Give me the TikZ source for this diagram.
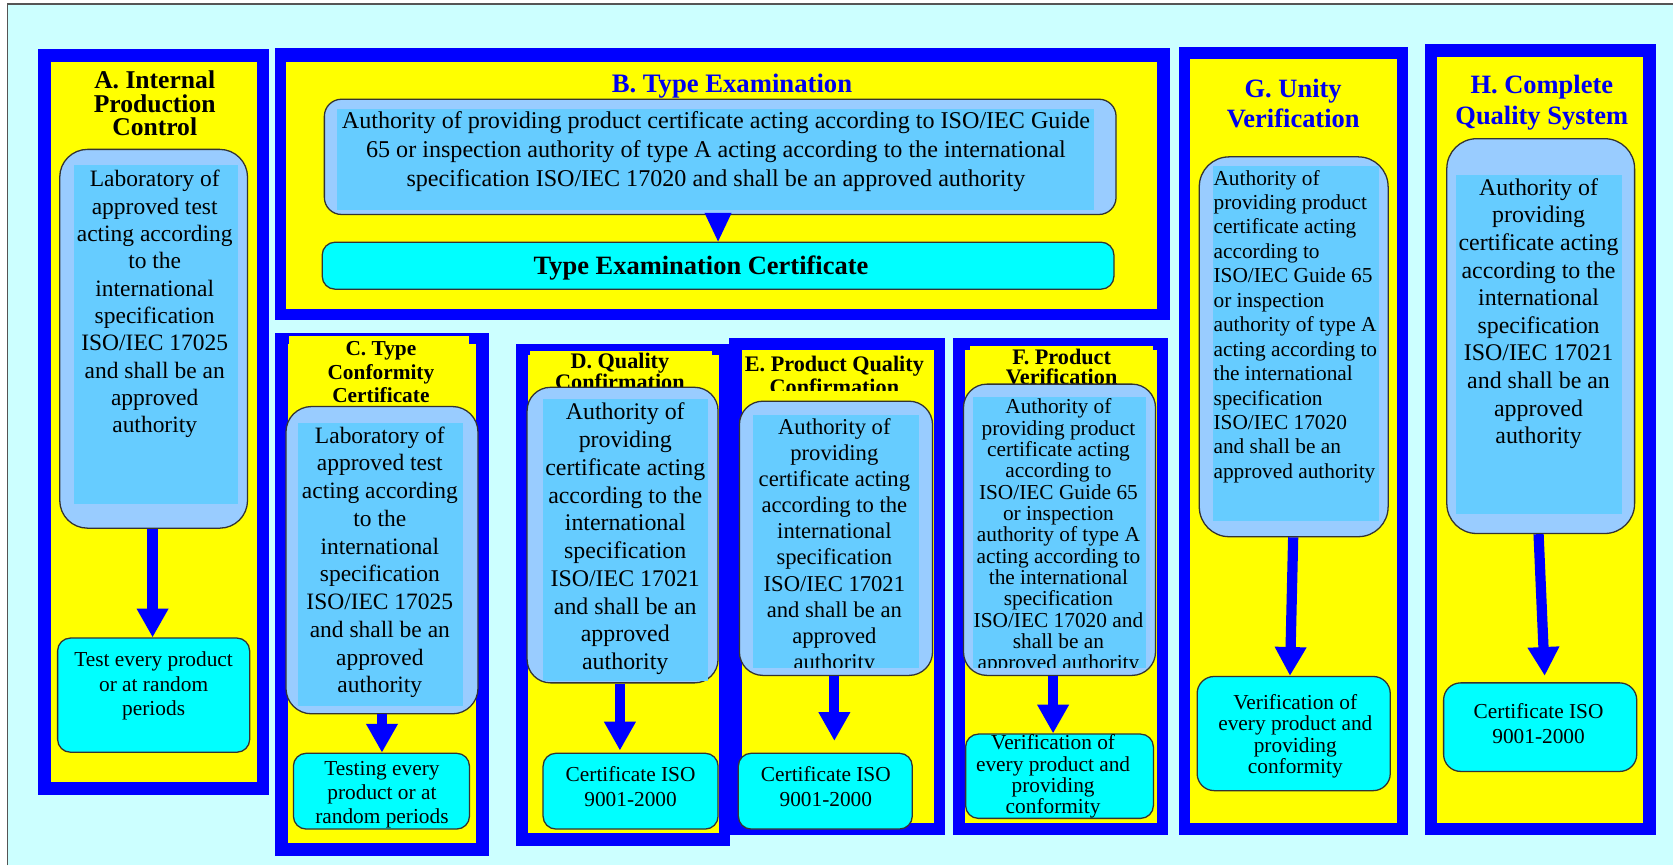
\documentclass[tikz,border=0pt]{standalone}
\usepackage{fontspec}
\setmainfont{Liberation Serif}
\usetikzlibrary{arrows.meta,fit,calc}
\definecolor{bgcyan}{HTML}{CCFFFF}
\definecolor{pblue}{HTML}{0000FF}
\definecolor{pyellow}{HTML}{FFFF00}
\definecolor{boxouter}{HTML}{99CCFF}
\definecolor{boxinner}{HTML}{66CCFF}
\definecolor{certcyan}{HTML}{00FFFF}
\definecolor{titleblue}{HTML}{0000EE}
\definecolor{edgegray}{HTML}{333333}
\definecolor{framegray}{HTML}{555555}
\tikzset{
  panel/.style={fill=pblue, draw=none, inner sep=0pt},
  panelin/.style={fill=pyellow, draw=none, inner sep=0pt},
  authbox/.style={fill=boxouter, draw=edgegray, line width=0.6pt, rounded corners=12pt, inner sep=0pt},
  authin/.style={fill=boxinner, draw=none, inner sep=0pt},
  certbox/.style={fill=certcyan, draw=edgegray, line width=0.6pt, rounded corners=6pt, inner sep=0pt},
  txt/.style={inner sep=0pt, align=center, text=black},
  ttlblack/.style={inner sep=0pt, align=center, text=black},
  ttlblue/.style={inner sep=0pt, align=center, text=titleblue, font=\bfseries\fontsize{12.4}{14.5}\selectfont},
  bigarrow/.style={draw=pblue, line width=4.8pt, -{Triangle[width=14pt,length=13.5pt]}},
  tiparrow/.style={draw=pblue, line width=1pt, -{Triangle[width=12.5pt,length=13.5pt]}},
}
\begin{document}
\begin{tikzpicture}[x=0.5pt,y=-0.5pt]
\useasboundingbox (0,0) rectangle (1568,811);
\fill[white] (0,0) rectangle (1568,811);
\fill[bgcyan] (7,4) rectangle (1568,811);
\draw[framegray, line width=0.8pt] (7,811) -- (7,4) -- (1568,4);

% ---------- A ----------
\node[panel, fit={(36,46)(252,745)}] (pA) {};
\node[panelin, fit={(48,58)(241,733)}] (pAi) {};
\node[ttlblack, font=\bfseries\fontsize{12}{11}\selectfont] (tA) at (145,97) {A. Internal\\Production\\Control};
\node[authbox, rounded corners=13pt, fit={(56,140)(232,495)}] (a1) {};
\node[authin, fit={(69,155)(223,472)}] (a1i) {};
\node[txt, font=\fontsize{11}{12.8}\selectfont] (a1t) at (145,285) {Laboratory of\\approved test\\acting according\\to the\\international\\specification\\ISO/IEC 17025\\and shall be an\\approved\\authority};
\node[certbox, fit={(54,598)(234,705)}] (a2) {};
\node[txt, font=\fontsize{10}{11.5}\selectfont] (a2t) at (144,643) {Test every product\\or at random\\periods};
\coordinate (aax) at (143,0);
\draw[bigarrow] (a1.south -| aax) -- (a2.north -| aax);

% ---------- B ----------
\node[panel, fit={(258,45)(1097,300)}] (pB) {};
\node[panelin, fit={(268,58)(1084,290)}] (pBi) {};
\node[ttlblue, font=\bfseries\fontsize{12.5}{14}\selectfont] (tB) at (686,81) {B. Type Examination};
\node[authbox, rounded corners=8pt, fit={(304,93)(1046,201)}] (b1) {};
\node[authin, fit={(316,102)(1025,197)}] (b1i) {};
\node[txt, font=\fontsize{11.3}{13.5}\selectfont] (b1t) at (671,142) {Authority of providing product certificate acting according to ISO/IEC Guide\\65 or inspection authority of type A acting according to the international\\specification ISO/IEC 17020 and shall be an approved authority};
\node[certbox, fit={(302,227)(1044,271)}] (b2) {};
\node[txt, font=\bfseries\fontsize{12.4}{14}\selectfont] (b2t) at (657,251) {Type Examination Certificate};
\coordinate (bax) at (673,0);
\draw[tiparrow] (b1.south -| bax) -- (b2.north -| bax);

% ---------- C ----------
\node[panel, fit={(258,312)(458,802)}] (pC) {};
\node[panelin, fit={(270,322)(446,790)}] (pCi) {};
\node[panelin, fit={(271,315)(440,335)}] (pCt) {};
\node[ttlblack, font=\bfseries\fontsize{10}{11}\selectfont] (tC) at (357,349) {C. Type\\Conformity\\Certificate};
\node[authbox, fit={(268,381)(448,669)}] (c1) {};
\node[authin, fit={(279,396)(434,662)}] (c1i) {};
\node[txt, font=\fontsize{11}{13}\selectfont] (c1t) at (356,527) {Laboratory of\\approved test\\acting according\\to the\\international\\specification\\ISO/IEC 17025\\and shall be an\\approved\\authority};
\node[certbox, fit={(275,706)(440,777)}] (c2) {};
\node[txt, font=\fontsize{10}{11.3}\selectfont] (c2t) at (358,745) {Testing every\\product or at\\random periods};
\coordinate (cax) at (358,0);
\draw[bigarrow] (c1.south -| cax) -- (c2.north -| cax);

% ---------- D ----------
\node[panel, fit={(484,322)(684,793)}] (pD) {};
\node[panelin, fit={(495,333)(674,781)}] (pDi) {};
\node[panelin, fit={(497,329)(667,345)}] (pDt) {};
\node[ttlblack, font=\bfseries\fontsize{10.4}{10}\selectfont] (tD) at (581,348) {D. Quality\\Confirmation};
\node[authbox, rounded corners=11pt, fit={(494,363)(673,640)}] (d1) {};
\node[authin, fit={(509,374)(664,638)}] (d1i) {};
\node[txt, font=\fontsize{11.2}{13}\selectfont] (d1t) at (586,505) {Authority of\\providing\\certificate acting\\according to the\\international\\specification\\ISO/IEC 17021\\and shall be an\\approved\\authority};
\node[certbox, fit={(509,706)(673,777)}] (d2) {};
\node[txt, font=\fontsize{10}{11.5}\selectfont] (d2t) at (591,737) {Certificate ISO\\9001-2000};
\coordinate (dax) at (581,0);
\draw[bigarrow, shorten >=1pt] (d1.south -| dax) -- (d2.north -| dax);

% ---------- E ----------
\node[panel, fit={(683,317)(886,783)}] (pE) {};
\node[panelin, fit={(695,328)(875,771)}] (pEi) {};
\begin{scope}
\clip (695,300) rectangle (875,366);
\node[ttlblack, font=\bfseries\fontsize{10.4}{9.5}\selectfont] (tE) at (782,352) {E. Product Quality\\Confirmation};
\end{scope}
\node[authbox, rounded corners=11pt, fit={(693,376)(874,633)}] (e1) {};
\node[authin, fit={(706,389)(861,626)}] (e1i) {};
\begin{scope}
\clip (706,389) rectangle (861,626);
\node[txt, font=\fontsize{10.6}{12.25}\selectfont] (e1t) at (782,512) {Authority of\\providing\\certificate acting\\according to the\\international\\specification\\ISO/IEC 17021\\and shall be an\\approved\\authority};
\end{scope}
\node[certbox, fit={(692,706)(855,777)}] (e2) {};
\node[txt, font=\fontsize{10}{11.5}\selectfont] (e2t) at (774,737) {Certificate ISO\\9001-2000};
\coordinate (eax) at (782,0);
\draw[bigarrow, shorten >=5.5pt] (e1.south -| eax) -- (e2.north -| eax);

% ---------- F ----------
\node[panel, fit={(893,317)(1095,783)}] (pF) {};
\node[panelin, fit={(904,328)(1084,771)}] (pFi) {};
\node[panelin, fit={(909,324)(1081,340)}] (pFt) {};
\node[ttlblack, font=\bfseries\fontsize{10.4}{9.5}\selectfont] (tF) at (995,344) {F. Product\\Verification};
\node[authbox, rounded corners=11pt, fit={(903,360)(1083,633)}] (f1) {};
\node[authin, fit={(912,372)(1074,626)}] (f1i) {};
\begin{scope}
\clip (912,372) rectangle (1074,626);
\node[txt, font=\fontsize{10}{10}\selectfont] (f1t) at (992,503) {Authority of\\providing product\\certificate acting\\according to\\ISO/IEC Guide 65\\or inspection\\authority of type A\\acting according to\\the international\\specification\\ISO/IEC 17020 and\\shall be an\\approved authority};
\end{scope}
\node[certbox, fit={(905,688)(1081,767)}] (f2) {};
\begin{scope}
\clip (905,688) rectangle (1081,767);
\node[txt, font=\fontsize{10}{10}\selectfont] (f2t) at (987,728) {Verification of\\every product and\\providing\\conformity};
\end{scope}
\coordinate (fax) at (987,0);
\draw[bigarrow] (f1.south -| fax) -- (f2.north -| fax);

% ---------- G ----------
\node[panel, fit={(1105,44)(1320,783)}] (pG) {};
\node[panelin, fit={(1115,55)(1309,771)}] (pGi) {};
\node[ttlblue] (tG) at (1212,97) {G. Unity\\Verification};
\node[authbox, rounded corners=14pt, fit={(1124,147)(1301,503)}] (g1) {};
\node[authin, fit={(1137,156)(1292,488)}] (g1i) {};
\node[txt, align=left, anchor=west, font=\fontsize{10}{11.45}\selectfont] (g1t) at (1137,306) {Authority of\\providing product\\certificate acting\\according to\\ISO/IEC Guide 65\\or inspection\\authority of type A\\acting according to\\the international\\specification\\ISO/IEC 17020\\and shall be an\\approved authority};
\node[certbox, rounded corners=8pt, fit={(1122,634)(1303,741)}] (g2) {};
\begin{scope}
\clip (1122,634) rectangle (1303,729);
\node[txt, font=\fontsize{10}{10}\selectfont] (g2t) at (1214,690) {Verification of\\every product and\\providing\\conformity};
\end{scope}
\coordinate (gax1) at (1212,0);
\coordinate (gax2) at (1209,0);
\draw[bigarrow] (g1.south -| gax1) -- (g2.north -| gax2);

% ---------- H ----------
\node[panel, fit={(1336,41)(1552,783)}] (pH) {};
\node[panelin, fit={(1347,53)(1540,771)}] (pHi) {};
\node[ttlblue] (tH) at (1445,96) {H. Complete\\Quality System};
\node[authbox, rounded corners=14pt, fit={(1356,130)(1532,500)}] (h1) {};
\node[authin, fit={(1365,164)(1520,482)}] (h1i) {};
\node[txt, font=\fontsize{11.2}{12.95}\selectfont] (h1t) at (1442,294) {Authority of\\providing\\certificate acting\\according to the\\international\\specification\\ISO/IEC 17021\\and shall be an\\approved\\authority};
\node[certbox, rounded corners=8pt, fit={(1353,640)(1534,723)}] (h2) {};
\node[txt, font=\fontsize{10}{12}\selectfont] (h2t) at (1442,678) {Certificate ISO\\9001-2000};
\coordinate (hax1) at (1442,0);
\coordinate (hax2) at (1448,0);
\draw[bigarrow, shorten >=3pt] (h1.south -| hax1) -- (h2.north -| hax2);
\end{tikzpicture}
\end{document}
